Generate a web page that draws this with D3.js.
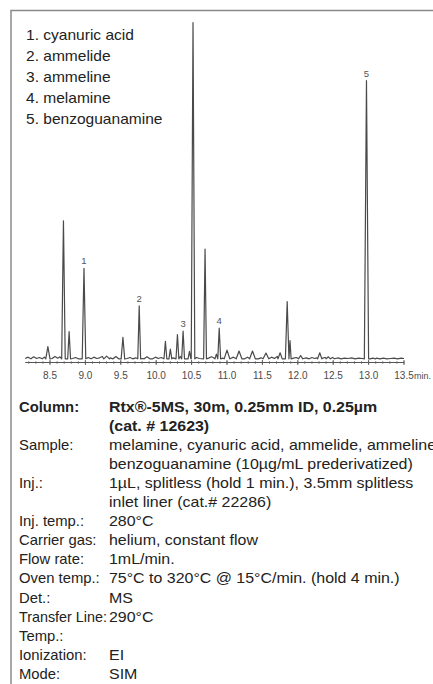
<!DOCTYPE html>
<html>
<head>
<meta charset="utf-8">
<script src="https://cdn.jsdelivr.net/npm/d3@7"></script>
<style>
  html, body { margin: 0; padding: 0; background: #fff; }
  svg { display: block; }
</style>
</head>
<body>
<svg id="chart" width="433" height="684"></svg>
<script>
// Compound legend
const compounds = ["cyanuric acid", "ammelide", "ammeline", "melamine", "benzoguanamine"];

// Peaks: retention time (min), height (% of tallest), base half-width (min)
const peakTimes   = [8.47, 8.69, 8.77, 8.98, 9.30, 9.43, 9.53, 9.76, 9.87, 10.13, 10.20, 10.30, 10.38, 10.47, 10.52, 10.69, 10.85, 10.89, 11.00, 11.17, 11.36, 11.55, 11.75, 11.85, 11.89, 12.04, 12.31, 12.43, 12.49, 12.97, 13.06];
const peakHeights = [3.8, 41.2, 8.3, 27.1, 1.0, 0.9, 6.6, 15.9, 0.8, 5.4, 3.1, 7.4, 8.4, 2.4, 100, 32.8, 1.6, 9.3, 2.8, 2.5, 2.5, 1.9, 2.0, 17.2, 5.6, 1.2, 2.0, 0.8, 0.6, 82.8, 0.4];
const peakWidths  = [0.03, 0.025, 0.02, 0.025, 0.04, 0.04, 0.025, 0.02, 0.04, 0.02, 0.02, 0.02, 0.02, 0.02, 0.025, 0.02, 0.02, 0.02, 0.04, 0.04, 0.04, 0.04, 0.03, 0.025, 0.015, 0.03, 0.03, 0.03, 0.03, 0.03, 0.04];

// Numbered peaks: time and which label
const labelTimes = [8.98, 9.76, 10.38, 10.89, 12.97];
const labelNames = ["1", "2", "3", "4", "5"];

// Baseline noise (time, level) between the peaks
const noiseTimes  = [8.15, 8.19, 8.23, 8.27, 8.31, 8.35, 8.39, 8.42, 8.53, 8.57, 8.61, 8.64, 8.82, 8.86, 8.90, 9.04, 9.08, 9.12, 9.16, 9.20, 9.24, 9.35, 9.39, 9.47, 9.59, 9.63, 9.67, 9.71, 9.81, 9.91, 9.95, 9.99, 10.03, 10.07, 10.24, 10.34, 10.57, 10.61, 10.74, 10.78, 10.81, 10.94, 11.05, 11.09, 11.13, 11.21, 11.25, 11.29, 11.32, 11.40, 11.44, 11.48, 11.51, 11.59, 11.63, 11.67, 11.71, 11.94, 11.98, 12.08, 12.12, 12.16, 12.20, 12.24, 12.27, 12.35, 12.39, 12.53, 12.57, 12.61, 12.66, 12.71, 12.76, 12.81, 12.86, 12.91, 13.11, 13.16, 13.21, 13.26, 13.31, 13.36, 13.41, 13.46, 13.50];
const noiseLevels = [0.3, 0.7, 0.2, 0.8, 0.3, 0.6, 0.2, 0.7, 0.3, 0.9, 0.4, 0.8, 0.3, 0.6, 0.2, 0.6, 0.2, 0.7, 0.3, 0.5, 0.9, 0.5, 1.1, 0.8, 0.3, 0.6, 0.2, 0.5, 0.3, 0.6, 0.2, 0.7, 0.3, 0.6, 0.5, 0.9, 0.6, 0.3, 0.4, 0.8, 0.5, 0.4, 0.3, 0.7, 0.3, 0.5, 0.2, 0.7, 0.4, 0.6, 0.2, 0.5, 0.3, 0.4, 0.7, 0.3, 0.9, 0.4, 0.6, 0.3, 0.5, 0.2, 0.6, 0.3, 0.5, 0.4, 0.6, 0.3, 0.5, 0.2, 0.4, 0.3, 0.5, 0.2, 0.4, 0.3, 0.4, 0.2, 0.4, 0.2, 0.3, 0.4, 0.2, 0.4, 0.3];

// Axis ticks
const majorTicks = [8.5, 9.0, 9.5, 10.0, 10.5, 11.0, 11.5, 12.0, 12.5, 13.0, 13.5];

// Conditions table
const infoLabels = [["Column:"], ["Sample:"], ["Inj.:"], ["Inj. temp.:"], ["Carrier gas:"], ["Flow rate:"], ["Oven temp.:"], ["Det.:"], ["Transfer Line:", "Temp.:"], ["Ionization:"], ["Mode:"]];
const infoValues = [
  ["Rtx®-5MS, 30m, 0.25mm ID, 0.25µm", "(cat. # 12623)"],
  ["melamine, cyanuric acid, ammelide, ammeline,", "benzoguanamine (10µg/mL prederivatized)"],
  ["1µL, splitless (hold 1 min.), 3.5mm splitless", "inlet liner (cat.# 22286)"],
  ["280°C"],
  ["helium, constant flow"],
  ["1mL/min."],
  ["75°C to 320°C @ 15°C/min. (hold 4 min.)"],
  ["MS"],
  ["290°C"],
  ["EI"],
  ["SIM"]
];

const svg = d3.select("#chart");
const font = "'Liberation Sans', Arial, sans-serif";
const narrow = "'Liberation Sans Narrow', 'Arial Narrow', 'Liberation Sans', sans-serif";

// text drawn at (x, y) and stretched horizontally (the source is slightly wide)
function wideText(parent, x, y, str, sx, bold, maxW) {
  const t = parent.append("text")
    .style("font-family", font)
    .style("font-size", "14px")
    .style("font-weight", bold ? "bold" : "normal")
    .style("fill", "#222")
    .text(str);
  let s = sx;
  if (maxW) s = Math.min(s, maxW / t.node().getComputedTextLength());
  t.attr("transform", `translate(${x},${y}) scale(${s},1)`);
  return t;
}

// Frame
svg.append("path")
  .attr("d", "M11,684 L11,10.5 L440,10.5")
  .attr("fill", "none")
  .attr("stroke", "#8a8a8a")
  .attr("stroke-width", 1.5);

// Scales
const x = d3.scaleLinear().domain([8.5, 13.5]).range([50, 404]);
const y = d3.scaleLinear().domain([0, 100]).range([359.5, 22.7]);
const xStart = 8.15;

// Build the trace from peak apexes, peak feet and baseline noise
const pts = [];
peakTimes.forEach((t, i) => {
  const w = peakWidths[i];
  pts.push([t - w, 0.2], [t, peakHeights[i]], [t + w, 0.2]);
});
noiseTimes.forEach((t, i) => {
  const inside = peakTimes.some((p, j) => Math.abs(t - p) <= peakWidths[j] + 0.005);
  if (!inside) pts.push([t, noiseLevels[i]]);
});
pts.sort((a, b) => a[0] - b[0]);

const line = d3.line()
  .x(d => x(d[0]))
  .y(d => y(d[1]));

svg.append("path")
  .datum(pts)
  .attr("d", line)
  .attr("fill", "none")
  .attr("stroke", "#4a4a4a")
  .attr("stroke-width", 1.2)
  .attr("stroke-linejoin", "round");

// Axis
const axisY = 362.5;
const axis = svg.append("g").attr("transform", `translate(0,${axisY})`);
axis.append("line")
  .attr("x1", x(xStart)).attr("x2", x(13.5))
  .attr("stroke", "#555").attr("stroke-width", 1);

const minorTicks = d3.range(82, 136).map(v => v / 10);
axis.selectAll("line.minor")
  .data(minorTicks)
  .join("line")
  .attr("class", "minor")
  .attr("x1", d => x(d)).attr("x2", d => x(d))
  .attr("y1", -1.5).attr("y2", 1.5)
  .attr("stroke", "#666").attr("stroke-width", 0.7);

axis.selectAll("line.major")
  .data(majorTicks)
  .join("line")
  .attr("class", "major")
  .attr("x1", d => x(d)).attr("x2", d => x(d))
  .attr("y1", -2.5).attr("y2", 2.5)
  .attr("stroke", "#555").attr("stroke-width", 0.9);

axis.selectAll("text.tick")
  .data(majorTicks)
  .join("text")
  .attr("class", "tick")
  .attr("x", d => x(d))
  .attr("y", 16)
  .attr("text-anchor", "middle")
  .style("font-family", narrow)
  .style("font-size", "10px")
  .style("fill", "#4a4a4a")
  .text(d => d.toFixed(1));

axis.append("text")
  .attr("x", x(13.5) + 10)
  .attr("y", 16)
  .style("font-family", narrow)
  .style("font-size", "9px")
  .style("fill", "#4a4a4a")
  .text("min.");

// Peak numbers
svg.selectAll("text.peak")
  .data(labelTimes)
  .join("text")
  .attr("class", "peak")
  .attr("x", d => x(d))
  .attr("y", d => y(peakHeights[peakTimes.indexOf(d)]) - 4)
  .attr("text-anchor", "middle")
  .style("font-family", narrow)
  .style("font-size", "9.5px")
  .style("fill", "#555")
  .text((d, i) => labelNames[i]);

// Legend
const legend = svg.append("g");
compounds.forEach((c, i) => {
  wideText(legend, 26, 39.5 + i * 21.2, `${i + 1}. ${c}`, 1.11, false);
});

// Conditions
const info = svg.append("g");
const lineH = 19.1;
let row = 0;
infoLabels.forEach((lab, i) => {
  const vals = infoValues[i];
  const bold = i === 0;
  lab.forEach((t, k) => {
    wideText(info, 19, 411.5 + (row + k) * lineH, t, 1.06, bold, 88);
  });
  vals.forEach((t, k) => {
    wideText(info, 109, 411.5 + (row + k) * lineH, t, 1.14, bold);
  });
  row += Math.max(lab.length, vals.length);
});
</script>
</body>
</html>
